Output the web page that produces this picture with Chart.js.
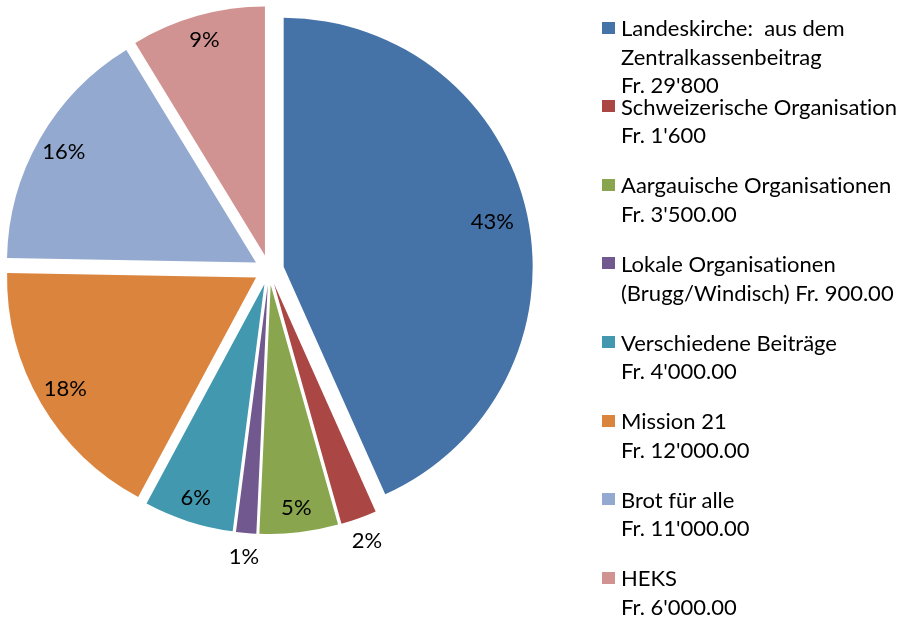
<!DOCTYPE html>
<html><head><meta charset="utf-8">
<script src="https://cdn.jsdelivr.net/npm/chart.js@4"></script>
<style>
html,body{margin:0;padding:0;background:#fff;width:907px;height:619px;overflow:hidden;}
#wrap{position:absolute;left:0;top:0;width:538px;height:619px;}
#legend{position:absolute;left:0;top:0;width:907px;height:619px;font-family:Lato,"Open Sans",sans-serif;font-size:22px;color:#000;font-variant-ligatures:none;font-feature-settings:"liga" 0;}
.item{position:absolute;left:621px;white-space:pre;line-height:28.5px;}
.sw{position:absolute;left:602px;width:13px;height:12px;}
</style></head><body>
<div id="wrap"><canvas id="c"></canvas></div>
<div id="legend"></div>
<script>
// ---- data ----
const categories = ["Landeskirche", "Schweizerische Organisation", "Aargauische Organisationen", "Lokale Organisationen", "Verschiedene Beiträge", "Mission 21", "Brot für alle", "HEKS"];
const values = [29800, 1600, 3500, 900, 4000, 12000, 11000, 6000];
const pctLabels = ["43%", "2%", "5%", "1%", "6%", "18%", "16%", "9%"];
const legendLines = [
  ["Landeskirche:  aus dem", "Zentralkassenbeitrag", "Fr. 29'800"],
  ["Schweizerische Organisation", "Fr. 1'600"],
  ["Aargauische Organisationen", "Fr. 3'500.00"],
  ["Lokale Organisationen", "(Brugg/Windisch) Fr. 900.00"],
  ["Verschiedene Beiträge", "Fr. 4'000.00"],
  ["Mission 21", "Fr. 12'000.00"],
  ["Brot für alle", "Fr. 11'000.00"],
  ["HEKS", "Fr. 6'000.00"]
];
const colors = ["#4572A7", "#AA4643", "#89A54E", "#71588F", "#4198AF", "#DB843D", "#93A9CF", "#D19392"];

// ---- styling constants ----
const EXPLODE = 15;
const FONT = "22px Lato";
const LEGEND_TOP = 28.5, LEGEND_STEP = 78.6, LINE_H = 28.5;

// HTML legend built from arrays
const lg = document.getElementById('legend');
legendLines.forEach((lines, i) => {
  const cy = LEGEND_TOP + i * LEGEND_STEP;
  const sw = document.createElement('div');
  sw.className = 'sw';
  sw.style.top = (cy - 7) + 'px';
  sw.style.background = colors[i];
  lg.appendChild(sw);
  const it = document.createElement('div');
  it.className = 'item';
  it.style.top = (cy - LINE_H / 2) + 'px';
  it.textContent = lines.join('\n');
  lg.appendChild(it);
});

const explodePlugin = {
  id: 'explode',
  beforeDatasetDraw(chart, args) {
    const ctx = chart.ctx;
    args.meta.data.forEach(arc => {
      const mid = (arc.startAngle + arc.endAngle) / 2;
      ctx.save();
      ctx.translate(Math.cos(mid) * EXPLODE, Math.sin(mid) * EXPLODE);
      arc.draw(ctx);
      ctx.restore();
    });
    return false;
  }
};

const labelPlugin = {
  id: 'pctLabels',
  afterDatasetsDraw(chart) {
    const ctx = chart.ctx;
    const meta = chart.getDatasetMeta(0);
    const total = values.reduce((a, b) => a + b, 0);
    ctx.save();
    ctx.font = FONT;
    ctx.fillStyle = '#000';
    ctx.textAlign = 'center';
    ctx.textBaseline = 'middle';
    meta.data.forEach((arc, i) => {
      const frac = values[i] / total;
      const mid = (arc.startAngle + arc.endAngle) / 2;
      const r = frac < 0.03
        ? arc.outerRadius + EXPLODE + 24
        : arc.outerRadius * (0.925 - 0.12 * frac) + EXPLODE - 4;
      ctx.fillText(pctLabels[i], arc.x + Math.cos(mid) * r, arc.y + Math.sin(mid) * r);
    });
    ctx.restore();
  }
};

new Chart(document.getElementById('c'), {
  type: 'pie',
  data: {
    labels: categories,
    datasets: [{ data: values, backgroundColor: colors, borderWidth: 0 }]
  },
  options: {
    responsive: true,
    maintainAspectRatio: false,
    animation: false,
    radius: 249,
    layout: { padding: { left: 0, top: 0, right: 0, bottom: 79 } },
    plugins: { legend: { display: false }, tooltip: { enabled: false } }
  },
  plugins: [explodePlugin, labelPlugin]
});
</script>
</body></html>
